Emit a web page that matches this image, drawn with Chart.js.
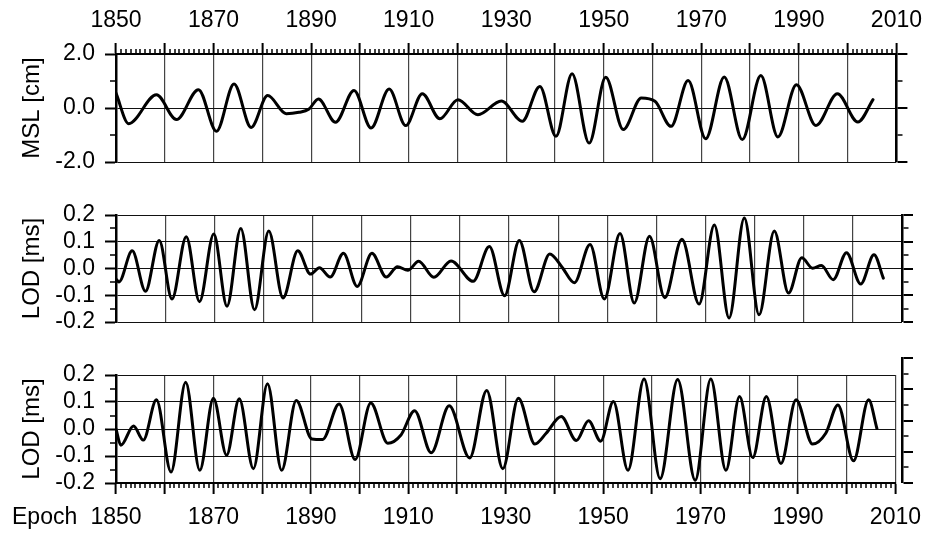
<!DOCTYPE html>
<html><head><meta charset="utf-8">
<script src="https://cdn.jsdelivr.net/npm/chart.js@4.4.1/dist/chart.umd.min.js"></script>
<style>
html,body{margin:0;padding:0;background:#fff;}
#wrap{position:relative;width:931px;height:535px;overflow:hidden;background:#fff;}
canvas{position:absolute;left:0;}
</style></head><body>
<div id="wrap">
<canvas id="c1" width="931" height="190" style="top:0px"></canvas>
<canvas id="c2" width="931" height="170" style="top:180px"></canvas>
<canvas id="c3" width="931" height="185" style="top:350px"></canvas>
<canvas id="c4" width="931" height="185" style="top:350px"></canvas>
</div>
<script>
// ---------- data ----------
const mslYears  = [1850.0,1852.6,1858.3,1862.4,1866.9,1870.6,1874.2,1877.7,1881.1,1884.9,1887.5,1889.5,1891.5,1895.0,1898.8,1902.3,1906.0,1909.4,1912.8,1916.4,1920.1,1924.2,1929.0,1933.3,1936.9,1940.2,1943.5,1947.0,1950.4,1954.0,1957.7,1960.5,1963.8,1967.3,1970.9,1974.7,1978.4,1982.2,1985.7,1989.5,1993.5,1997.9,2002.1,2005.2];
const mslValues = [0.55,-0.58,0.49,-0.43,0.68,-0.86,0.89,-0.72,0.46,-0.21,-0.16,-0.05,0.33,-0.53,0.65,-0.74,0.70,-0.65,0.53,-0.40,0.31,-0.25,0.26,-0.49,0.80,-1.05,1.27,-1.30,1.14,-0.80,0.37,0.25,-0.68,1.02,-1.14,1.15,-1.17,1.20,-1.07,0.86,-0.65,0.53,-0.52,0.31];

const lodAYears  = [1850.0,1850.6,1853.3,1856.0,1858.8,1861.4,1864.3,1867.0,1869.9,1872.6,1875.4,1878.2,1881.1,1884.0,1887.0,1889.6,1891.4,1893.6,1896.3,1899.1,1902.1,1905.0,1907.3,1909.4,1911.6,1914.7,1918.2,1922.7,1926.0,1929.1,1932.1,1935.1,1938.3,1940.8,1943.3,1946.5,1949.4,1952.6,1955.5,1958.6,1961.7,1965.2,1968.7,1971.8,1974.8,1977.9,1980.9,1984.0,1986.9,1989.6,1991.8,1993.6,1996.0,1998.7,2001.6,2004.3,2006.2];
const lodAValues = [-0.040,-0.050,0.066,-0.085,0.105,-0.114,0.119,-0.124,0.129,-0.141,0.150,-0.154,0.140,-0.110,0.066,-0.021,0.003,-0.032,0.057,-0.067,0.057,-0.032,0.007,-0.007,0.027,-0.033,0.028,-0.048,0.082,-0.102,0.105,-0.087,0.054,0.005,-0.053,0.090,-0.114,0.131,-0.129,0.121,-0.109,0.109,-0.133,0.163,-0.185,0.189,-0.173,0.140,-0.092,0.040,0.001,0.011,-0.042,0.059,-0.058,0.051,-0.036];

const lodBYears  = [1850.0,1851.0,1853.6,1855.6,1858.3,1861.3,1864.3,1867.2,1870.0,1872.7,1875.3,1878.2,1881.1,1884.0,1887.0,1890.2,1892.4,1895.8,1899.1,1902.3,1905.8,1908.5,1911.3,1914.7,1918.4,1922.6,1926.1,1929.4,1932.6,1936.0,1938.3,1941.4,1944.5,1947.0,1949.5,1952.1,1955.1,1958.4,1961.7,1965.3,1968.9,1972.1,1975.2,1978.0,1980.7,1983.5,1986.5,1989.6,1993.0,1995.7,1998.2,2001.4,2004.5,2006.2];
const lodBValues = [0.000,-0.060,0.011,-0.041,0.108,-0.159,0.173,-0.153,0.114,-0.097,0.112,-0.147,0.168,-0.153,0.106,-0.037,-0.039,0.093,-0.113,0.096,-0.053,-0.022,0.068,-0.088,0.086,-0.107,0.143,-0.147,0.114,-0.056,-0.016,0.046,-0.043,0.031,-0.045,0.102,-0.153,0.185,-0.184,0.183,-0.190,0.185,-0.153,0.120,-0.106,0.120,-0.128,0.108,-0.056,-0.016,0.089,-0.118,0.108,0.002];

// ---------- ticks ----------
const xMin = 1850, xMax = 2010;
const yearTicks = [];
for (let y = xMin; y <= xMax; y++) yearTicks.push(y);
const decadeTicks = [1850,1860,1870,1880,1890,1900,1910,1920,1930,1940,1950,1960,1970,1980,1990,2000,2010];
const yearLabels  = [1850,1870,1890,1910,1930,1950,1970,1990,2010];
const mslTicks  = [-2,-1,0,1,2];
const mslLabels = [-2,0,2];
const lodTicks  = [-0.2,-0.15,-0.1,-0.05,0,0.05,0.1,0.15,0.2];
const lodLabels = [-0.2,-0.1,0,0.1,0.2];

Chart.defaults.font.family = "'Liberation Sans', Arial, Helvetica, sans-serif";
Chart.defaults.color = '#000';
const TICK_FONT = 23;

const has = (list, v) => list.some(l => Math.abs(l - v) < 1e-9);
const tv = c => (c && c.tick) ? c.tick.value : NaN;

function xAxis(o) {
  const pos = o.position;
  return {
    type: 'linear', position: pos, min: xMin, max: xMax,
    afterBuildTicks: s => { s.ticks = yearTicks.map(v => ({value: v})); },
    afterFit: s => { s.height = o.height; },
    ticks: {display: o.labels, autoSkip: false, maxRotation: 0, minRotation: 0, padding: o.pad || 0,
            font: {size: TICK_FONT}, color: '#000', callback: v => has(yearLabels, v) ? String(v) : ''},
    grid: {
      display: true, drawOnChartArea: true, drawTicks: o.ticks, tickLength: 11,
      color: '#444',
      lineWidth: c => has(decadeTicks, tv(c)) ? 1.2 : 0,
      tickColor: '#000',
      tickWidth: c => has(decadeTicks, tv(c)) ? 2 : 1.5,
      tickBorderDash: c => has(decadeTicks, tv(c)) ? [] : (pos === 'top' ? [0, 6, 12] : [4, 30])
    },
    border: {display: o.ticks, color: '#000', width: 2}
  };
}

function yAxis(o) {
  const left = o.position === 'left';
  return {
    type: 'linear', position: o.position, min: o.min, max: o.max,
    afterBuildTicks: s => { s.ticks = o.tickVals.map(v => ({value: v})); },
    afterFit: s => { s.width = o.width; },
    ticks: {display: left, autoSkip: false, padding: 10, font: {size: TICK_FONT}, color: '#000',
      callback: v => has(o.labels, v) ? (Math.abs(v) < 1e-9 ? 0 : v).toFixed(1) : ''},
    grid: {
      drawOnChartArea: left, drawTicks: true, tickLength: 11,
      color: '#111',
      lineWidth: c => has(o.labels, tv(c)) ? 1 : 0,
      tickColor: '#000',
      tickWidth: c => has(o.majors, tv(c)) ? 2 : 1.5,
      tickBorderDash: c => has(o.majors, tv(c)) ? [] : (left ? [0, 5, 12] : [5, 30])
    },
    border: {display: true, color: '#000', width: 2.5},
    title: o.title ? {display: true, text: o.title, font: {size: 24}, color: '#000', padding: {top: o.titlePad, bottom: 0}} : {display: false}
  };
}

const series = (xs, ys) => ({
  data: xs.map((x, i) => ({x: x, y: ys[i]})),
  borderColor: '#000', borderWidth: 3, pointRadius: 0, fill: false,
  cubicInterpolationMode: 'monotone', borderJoinStyle: 'round', borderCapStyle: 'round'
});

const basePlugins = {legend: {display: false}, tooltip: {enabled: false}};

// Panel 1: MSL
new Chart(document.getElementById('c1'), {
  type: 'line',
  data: {datasets: [series(mslYears, mslValues)]},
  options: {
    responsive: false, animation: false, events: [],
    layout: {padding: {top: 0, bottom: 28, left: 0, right: 0}},
    plugins: basePlugins,
    scales: {
      x: xAxis({position: 'top', ticks: true, labels: true, height: 54, pad: 9}),
      y: yAxis({position: 'left', min: -2, max: 2, tickVals: mslTicks, majors: mslLabels, labels: mslLabels, title: 'MSL [cm]', titlePad: 17.6, width: 116}),
      y2: yAxis({position: 'right', min: -2, max: 2, tickVals: mslTicks, majors: mslLabels, labels: [], width: 29})
    }
  }
});

// Panel 2: LOD
new Chart(document.getElementById('c2'), {
  type: 'line',
  data: {datasets: [series(lodAYears, lodAValues)]},
  options: {
    responsive: false, animation: false, events: [],
    layout: {padding: {top: 35, bottom: 28, left: 0, right: 0}},
    plugins: basePlugins,
    scales: {
      x: xAxis({position: 'bottom', ticks: false, labels: false, height: 0}),
      y: yAxis({position: 'left', min: -0.2, max: 0.2, tickVals: lodTicks, majors: lodLabels, labels: lodLabels, title: 'LOD [ms]', titlePad: 17.6, width: 116}),
      y2: yAxis({position: 'right', min: -0.2, max: 0.2, tickVals: lodTicks, majors: lodLabels, labels: [], width: 29})
    }
  }
});

// Panel 3: LOD with Epoch axis
new Chart(document.getElementById('c3'), {
  type: 'line',
  data: {datasets: [series(lodBYears, lodBValues)]},
  options: {
    responsive: false, animation: false, events: [],
    layout: {padding: {top: 25, bottom: 0, left: 12, right: 29}},
    plugins: basePlugins,
    scales: {
      x: xAxis({position: 'bottom', ticks: true, labels: true, height: 52, pad: 10}),
      y: yAxis({position: 'left', min: -0.2, max: 0.2, tickVals: lodTicks, majors: lodLabels, labels: lodLabels, title: 'LOD [ms]', titlePad: 5.6, width: 104})
    }
  }
});

// Panel 3 right-hand axis (taller, unlabeled) and the "Epoch" caption
new Chart(document.getElementById('c4'), {
  type: 'line',
  data: {datasets: []},
  options: {
    responsive: false, animation: false, events: [],
    layout: {padding: {top: 8, bottom: 0, left: 12, right: 0}},
    plugins: {
      legend: {display: false}, tooltip: {enabled: false},
      title: {display: true, text: 'Epoch', position: 'bottom', align: 'start', color: '#000',
              font: {size: TICK_FONT, weight: 'normal'}, padding: {top: 21.2, bottom: 3.2}}
    },
    scales: {
      x: {type: 'linear', display: false, min: xMin, max: xMax},
      y: {type: 'linear', display: false, min: -0.2, max: 0.2},
      y2: yAxis({position: 'right', min: -0.2, max: 0.2, tickVals: lodTicks, majors: lodLabels, labels: [], width: 29})
    }
  }
});
</script>
</body></html>
